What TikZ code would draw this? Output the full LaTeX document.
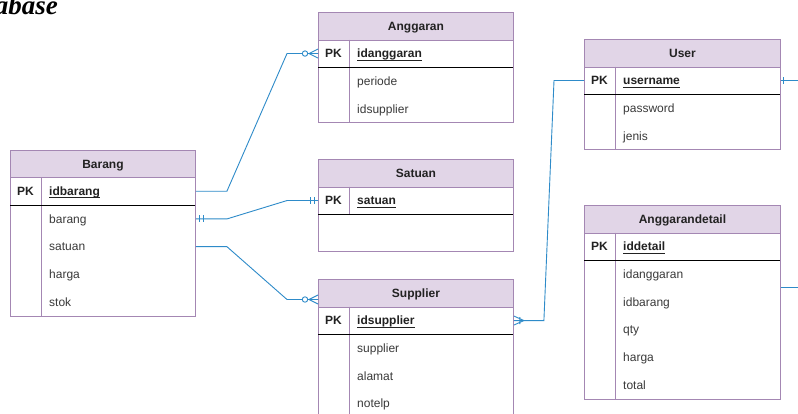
\documentclass[tikz,border=0pt]{standalone}
\usepackage{fontspec}
\setmainfont{Liberation Sans}
\newfontfamily\titlefont{Liberation Serif}
\usetikzlibrary{calc}
\definecolor{hdrfill}{HTML}{E1D5E7}
\definecolor{tblline}{HTML}{A487B3}
\definecolor{conn}{HTML}{2E8BC9}
\definecolor{txt}{HTML}{3A3A3A}
\definecolor{keytxt}{HTML}{222222}
\tikzset{
  tblbody/.style={draw=tblline, fill=white, line width=0.9pt, inner sep=0pt, rectangle},
  tblhead/.style={draw=tblline, fill=hdrfill, line width=0.9pt, inner sep=0pt, text height=8.6pt, text depth=0pt,
                  font=\bfseries\fontsize{12}{14}\selectfont, text=keytxt},
  celltext/.style={inner sep=0pt, text height=8.6pt, text depth=0pt, font=\fontsize{12}{14}\selectfont, text=txt},
  keytext/.style={inner sep=0pt, text height=8.6pt, text depth=0pt, font=\bfseries\fontsize{12}{14}\selectfont, text=keytxt},
  keyul/.style={draw=keytxt, line width=0.8pt},
  sepline/.style={draw=black, line width=0.8pt},
  divline/.style={draw=tblline, line width=0.9pt},
  rel/.style={draw=conn, line width=0.9pt},
}
% #1 name, #2 x, #3 y(top), #4 width, #5 height, #6 title, #7 key, #8 attributes, #9 divider end (from top)
\newcommand{\ERtable}[9]{%
  \node[tblbody, minimum width=#4pt, minimum height=#5pt, anchor=north west] (#1) at (#2,#3) {};
  \node[tblhead, minimum width=#4pt, minimum height=27.7pt, anchor=north west] (#1-h) at (#2,#3) {#6};
  \coordinate (#1-r0) at (#2,#3+41.55);
  \node[keytext, anchor=center] (#1-pk) at (#2+15.5,#3+41.55) {PK};
  \node[keytext, anchor=west] (#1-key) at (#2+39,#3+41.55) {#7};
  \draw[keyul] ([yshift=-2pt]#1-key.south west) -- ([yshift=-2pt]#1-key.south east);
  \draw[divline] (#2+31,#3+27.7) -- (#2+31,#3+#9);
  \draw[sepline] (#2,#3+55.4) -- (#2+#4,#3+55.4);
  \foreach \a [count=\i] in {#8} {\node[celltext, anchor=west] (#1-a\i) at (#2+39,#3+41.55+27.7*\i) {\a};}
}
% markers: #1 end point at entity, #2 = 1 if entity lies to the right, -1 if to the left
\newcommand{\mkZeroMany}[2]{%
  \begin{scope}[shift={(#1)}, xscale=#2]
    \draw[rel] (-9,0) -- (0,-4.5) (-9,0) -- (0,4.5) (-9,0) -- (0,0);
    \draw[rel, fill=white] (-13,0) circle (2.7pt);
  \end{scope}}
\newcommand{\mkMandOne}[2]{%
  \begin{scope}[shift={(#1)}, xscale=#2]
    \draw[rel] (-4,-3.5) -- (-4,3.5) (-8,-3.5) -- (-8,3.5);
  \end{scope}}
\newcommand{\mkOneMany}[2]{%
  \begin{scope}[shift={(#1)}, xscale=#2]
    \draw[rel] (-10,0) -- (0,-4.5) (-10,0) -- (0,4.5) (-6,-3.5) -- (-6,3.5);
  \end{scope}}
\newcommand{\mkOneTick}[2]{%
  \begin{scope}[shift={(#1)}, xscale=#2]
    \draw[rel] (-3,-3.5) -- (-3,3.5);
  \end{scope}}
\begin{document}
\begin{tikzpicture}[x=1pt, y=-1pt]
  \fill[white] (0,0) rectangle (798,414);
  \useasboundingbox (0,0) rectangle (798,414);
  \begin{scope}
    \clip (0,0) rectangle (798,414);
    \node[font=\titlefont\bfseries\itshape\fontsize{27}{32}\selectfont, anchor=base east, inner sep=0pt] (title) at (58,15) {Database};

    \ERtable{anggaran}{318}{12}{195}{110}{Anggaran}{idanggaran}{periode,idsupplier}{110}
    \ERtable{satuan}{318}{159}{195}{92}{Satuan}{satuan}{}{55.4}
    \ERtable{supplier}{318}{279}{195}{138.5}{Supplier}{idsupplier}{supplier,alamat,notelp}{138.5}
    \ERtable{user}{584}{39}{196}{110.5}{User}{username}{password,jenis}{110.5}
    \ERtable{barang}{10}{149.7}{185}{166.2}{Barang}{idbarang}{barang,satuan,harga,stok}{166.2}
    \ERtable{detail}{584}{205}{196}{194}{Anggarandetail}{iddetail}{idanggaran,idbarang,qty,harga,total}{194}

    \coordinate (supplier-in) at ($(supplier.north west)+(0,20.5)$);
    \coordinate (detail-src) at ($(detail.north east)+(0,82.7)$);
    \coordinate (detail-out) at (798,287.7);
    \coordinate (user-out) at (798,80.55);

    % Barang - Anggaran
    \draw[rel] (barang-r0 -| barang.east) -- ++(31,0) -- ($(anggaran-r0)+(-31,0)$) -- (anggaran-r0);
    \mkZeroMany{anggaran-r0}{1}
    % Barang - Satuan
    \draw[rel] (barang-a1 -| barang.east) -- ++(31,0) -- ($(satuan-r0)+(-31,0)$) -- (satuan-r0);
    \mkMandOne{satuan-r0}{1}
    \mkMandOne{barang-a1 -| barang.east}{-1}
    % Barang - Supplier
    \draw[rel] (barang-a2 -| barang.east) -- ++(31,0) -- ($(supplier-in)+(-31,0)$) -- (supplier-in);
    \mkZeroMany{supplier-in}{1}
    % Supplier - User
    \draw[rel] (supplier-r0 -| supplier.east) -- ++(30,0) -- ($(user-r0)+(-30,0)$) -- (user-r0);
    \mkOneMany{supplier-r0 -| supplier.east}{-1}
    % User - outside
    \draw[rel] (user-r0 -| user.east) -- (user-out);
    \mkOneTick{user-r0 -| user.east}{-1}
    % Anggarandetail - outside
    \draw[rel] (detail-src) -- (detail-out);
  \end{scope}
\end{tikzpicture}
\end{document}
